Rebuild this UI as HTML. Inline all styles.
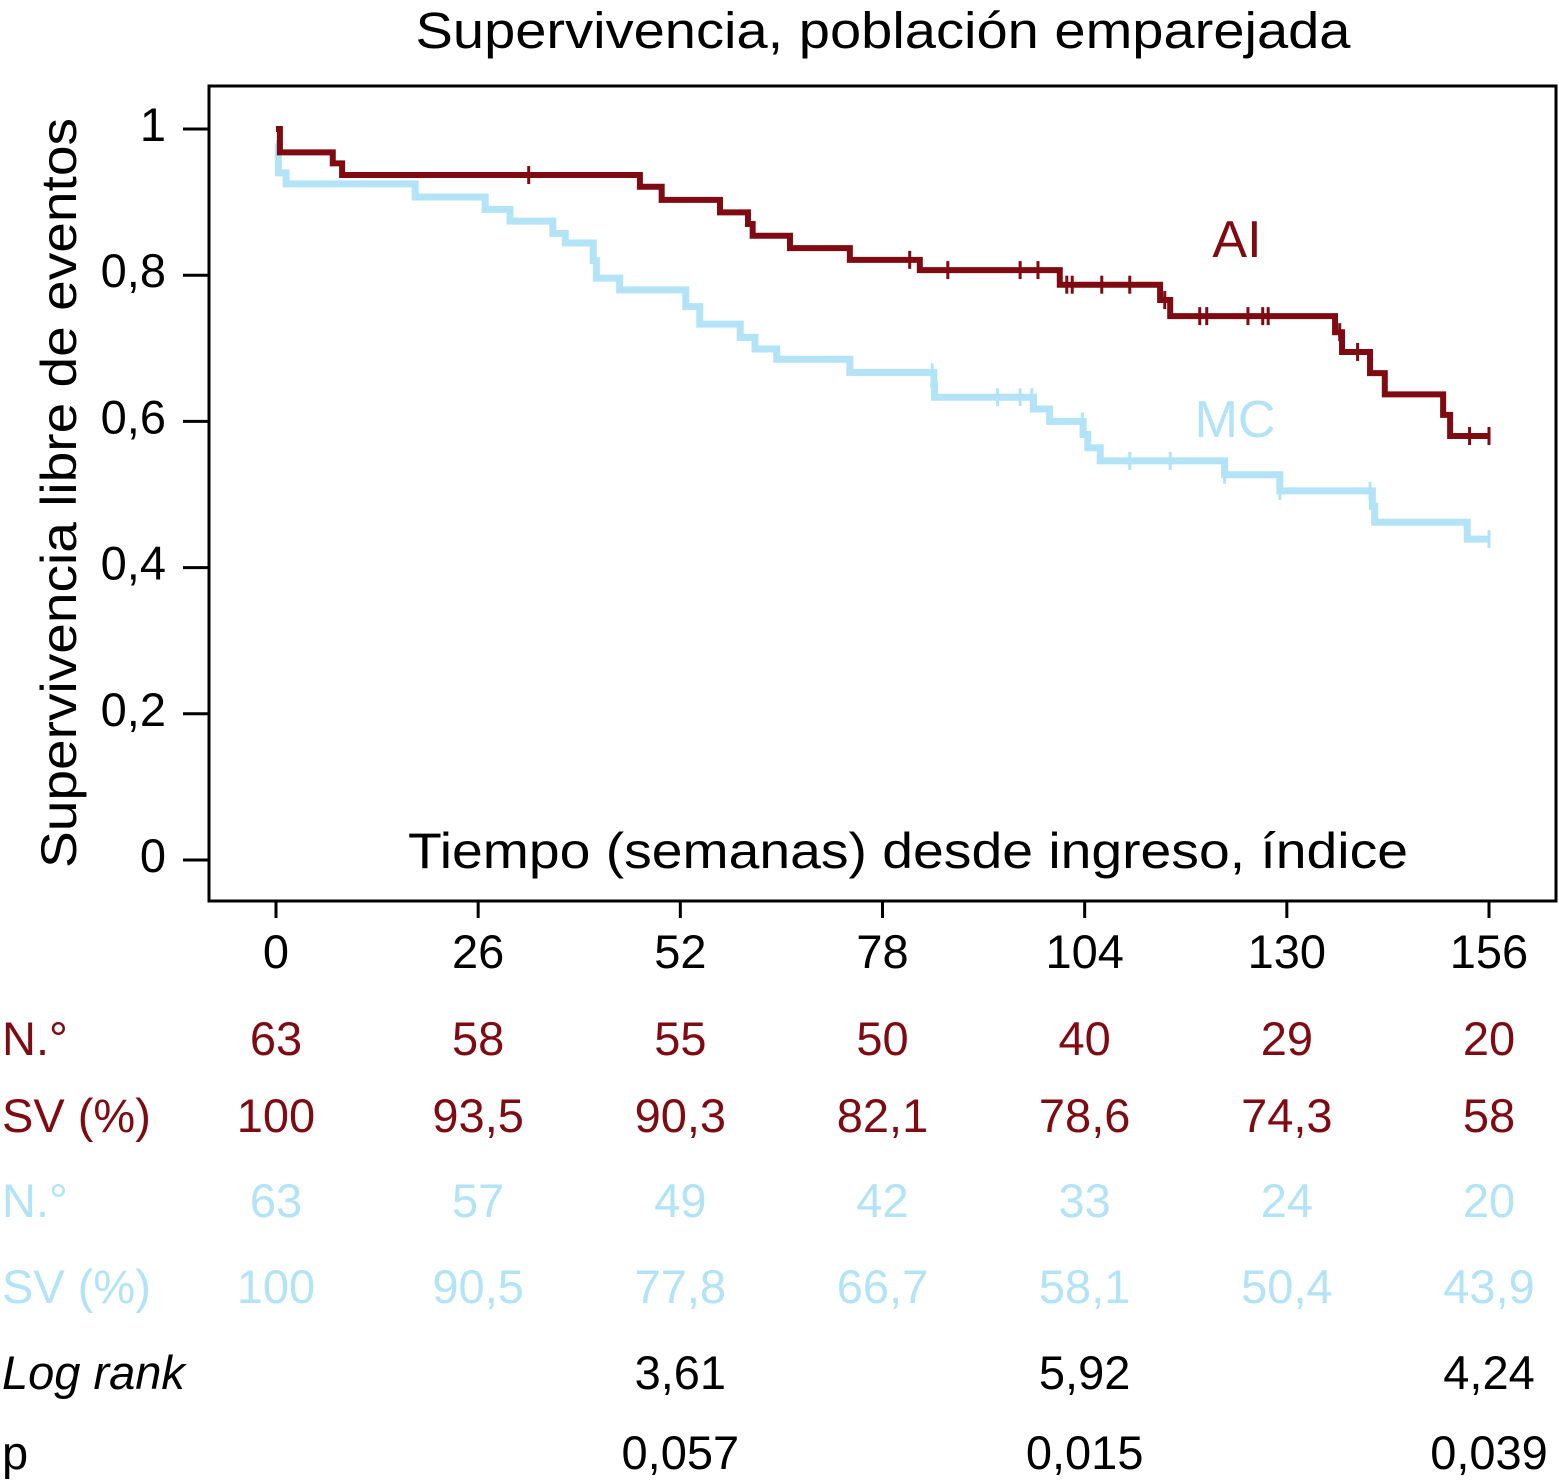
<!DOCTYPE html>
<html><head><meta charset="utf-8"><style>
html,body{margin:0;padding:0;background:#fff;}
svg{display:block;font-family:"Liberation Sans",Arial,sans-serif;}
</style></head><body>
<svg id="chart" width="1559" height="1480" viewBox="0 0 1559 1480" xmlns="http://www.w3.org/2000/svg">
<text x="883" y="48" font-size="51" text-anchor="middle" fill="#000" textLength="935" lengthAdjust="spacingAndGlyphs">Supervivencia, población emparejada</text>
<rect x="209" y="86" width="1347" height="815" fill="none" stroke="#000" stroke-width="3"/>
<text transform="translate(76,493) rotate(-90)" font-size="50" text-anchor="middle" fill="#000" textLength="750" lengthAdjust="spacingAndGlyphs">Supervivencia libre de eventos</text>
<text x="908" y="868" font-size="50" text-anchor="middle" fill="#000" textLength="1000" lengthAdjust="spacingAndGlyphs">Tiempo (semanas) desde ingreso, índice</text>
<text x="1237" y="257" font-size="52" text-anchor="middle" fill="#7f0a12">AI</text>
<text x="1235" y="437" font-size="52" text-anchor="middle" fill="#b3e3f7">MC</text>
<g id="axes"></g>
<g id="series"></g>
<g id="table"></g>
</svg>
<script>
const xTicks = [0, 26, 52, 78, 104, 130, 156];
const yTicks = [0, 0.2, 0.4, 0.6, 0.8, 1];
const yTickLabels = ["0", "0,2", "0,4", "0,6", "0,8", "1"];
const aiTimes = [0, 0.5, 7.3, 8.5, 46.8, 49.6, 57.1, 60.7, 61.3, 66.1, 73.8, 82.8, 100.8, 113.7, 115, 136.2, 137.1, 140.7, 142.6, 150.1, 151];
const aiSurv = [1.0, 0.968, 0.953, 0.937, 0.921, 0.903, 0.886, 0.870, 0.854, 0.837, 0.821, 0.807, 0.787, 0.766, 0.744, 0.722, 0.695, 0.666, 0.637, 0.609, 0.580];
const aiCensor = [32.5, 81.5, 86.4, 95.7, 98, 101.7, 102.4, 106.2, 109.8, 114.3, 118.8, 119.7, 125, 126.9, 127.6, 136.8, 139.1, 153.5, 156];
const mcTimes = [0, 0.3, 1.3, 17.9, 26.9, 30.1, 35.6, 37.2, 40.8, 41.2, 44.2, 52.7, 54.5, 59.7, 61.6, 64.4, 73.8, 84.6, 84.7, 97.4, 99.5, 103.8, 104.4, 106, 122, 129.1, 141, 141.3, 153.2];
const mcSurv = [0.98, 0.94, 0.925, 0.907, 0.89, 0.874, 0.857, 0.844, 0.82, 0.796, 0.78, 0.757, 0.733, 0.715, 0.699, 0.685, 0.667, 0.65, 0.633, 0.617, 0.6, 0.582, 0.564, 0.546, 0.527, 0.505, 0.484, 0.462, 0.439];
const mcCensor = [84.4, 92.8, 95.7, 97.2, 103.7, 109.8, 115, 122, 129.1, 140.7, 156];
const endTime = 156;
const aiN = ["63", "58", "55", "50", "40", "29", "20"];
const aiSV = ["100", "93,5", "90,3", "82,1", "78,6", "74,3", "58"];
const mcN = ["63", "57", "49", "42", "33", "24", "20"];
const mcSV = ["100", "90,5", "77,8", "66,7", "58,1", "50,4", "43,9"];
const logRank = ["", "", "3,61", "", "5,92", "", "4,24"];
const pVals = ["", "", "0,057", "", "0,015", "", "0,039"];

const NS = "http://www.w3.org/2000/svg";
const X = t => 276 + t * (1489 - 276) / 156;
const Y = s => 860 - s * 731;
function mk(tag, attrs, parent) {
  const e = document.createElementNS(NS, tag);
  for (const k in attrs) e.setAttribute(k, attrs[k]);
  parent.appendChild(e);
  return e;
}
const axes = document.getElementById('axes');
xTicks.forEach(t => {
  const l = mk('line', {x1: X(t), x2: X(t), y1: 901, y2: 918, stroke: '#000', 'stroke-width': 3}, axes);
  
  
  const tx = mk('text', {x: X(t), y: 968, 'font-size': 47, 'text-anchor': 'middle', fill: '#000'}, axes);
  
  
  tx.textContent = t;
});
yTicks.forEach((v, i) => {
  const l = mk('line', {x1: 183, x2: 209, y1: Y(v), y2: Y(v), stroke: '#000', 'stroke-width': 3}, axes);
  
  
  const tx = mk('text', {x: 166, y: Y(v) + 12, 'font-size': 47, 'text-anchor': 'end', fill: '#000'}, axes);
  
  
  tx.textContent = yTickLabels[i];
});
const series = document.getElementById('series');
function stepPath(times, surv) {
  let d = 'M' + X(times[0]) + ',' + Y(surv[0]);
  for (let i = 1; i < times.length; i++) {
    d += ' H' + X(times[i]) + ' V' + Y(surv[i]);
  }
  d += ' H' + X(endTime);
  return d;
}
function survAt(times, surv, t) {
  let s = surv[0];
  for (let i = 0; i < times.length; i++) if (times[i] <= t) s = surv[i];
  return s;
}
function drawSeries(times, surv, cens, color, w, name) {
  const p = mk('path', {d: stepPath(times, surv), fill: 'none', stroke: color, 'stroke-width': w}, series);
  
  
  cens.forEach(t => {
    const y = Y(survAt(times, surv, t));
    const c = mk('line', {x1: X(t), x2: X(t), y1: y - 9, y2: y + 9, stroke: color, 'stroke-width': 3}, series);
    
    
  });
}
drawSeries(mcTimes, mcSurv, mcCensor, '#b3e3f7', 7, 'mc');
drawSeries(aiTimes, aiSurv, aiCensor, '#7f0a12', 6, 'ai');

const table = document.getElementById('table');
const rows = [
  {label: 'N.°', vals: aiN, y: 1055, color: '#7f0a12', name: 'ai-n-row'},
  {label: 'SV (%)', vals: aiSV, y: 1132, color: '#7f0a12', name: 'ai-sv-row'},
  {label: 'N.°', vals: mcN, y: 1217, color: '#b3e3f7', name: 'mc-n-row'},
  {label: 'SV (%)', vals: mcSV, y: 1303, color: '#b3e3f7', name: 'mc-sv-row'},
  {label: 'Log rank', vals: logRank, y: 1389, color: '#000', name: 'log-rank-row', italic: true},
  {label: 'p', vals: pVals, y: 1469, color: '#000', name: 'p-value-row'}
];
rows.forEach(r => {
  const lb = mk('text', {x: 2, y: r.y, 'font-size': 47, fill: r.color}, table);
  if (r.italic) lb.setAttribute('font-style', 'italic');
  
  
  lb.textContent = r.label;
  r.vals.forEach((v, i) => {
    if (!v) return;
    const tx = mk('text', {x: X(xTicks[i]), y: r.y, 'font-size': 47, 'text-anchor': 'middle', fill: r.color}, table);
    
    
    tx.textContent = v;
  });
});
</script>
</body></html>
